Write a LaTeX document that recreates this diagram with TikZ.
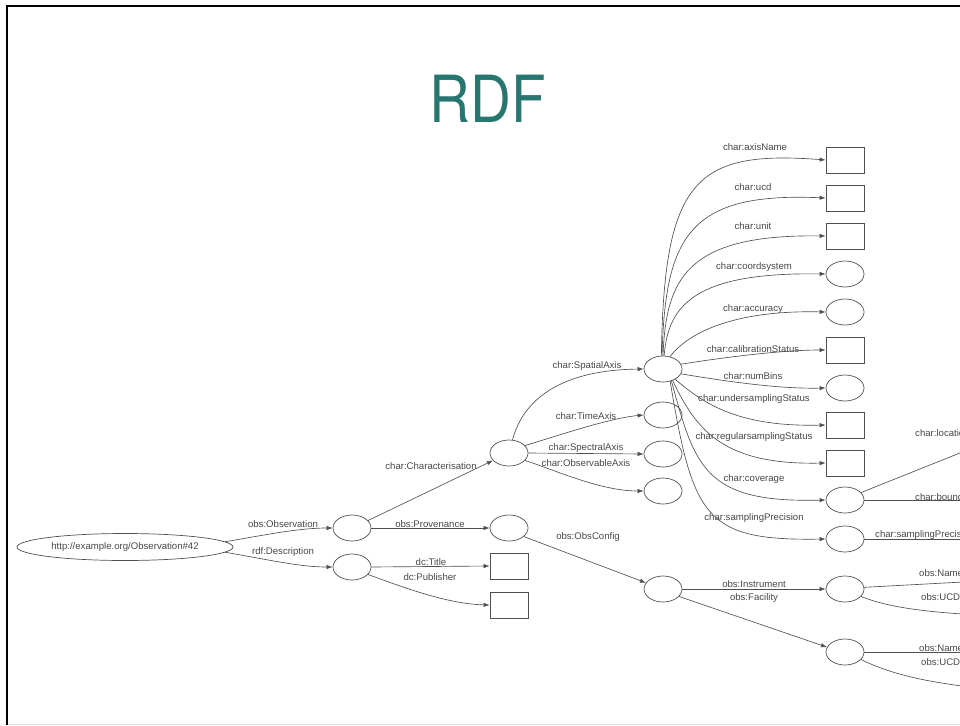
\documentclass[tikz,border=0pt]{standalone}
\usepackage{fontspec}
\usepackage{graphicx}
\setmainfont{Liberation Sans}
\newfontfamily\titlefont{TeX Gyre Heros}
\usetikzlibrary{arrows.meta,shapes.geometric}
\definecolor{titleteal}{RGB}{40,118,112}
\definecolor{edgegray}{RGB}{80,80,80}
\begin{document}
\begin{tikzpicture}[x=1pt,y=-1pt,
  every node/.style={inner sep=0pt},
  res/.style={draw=edgegray,line width=0.7pt,ellipse,minimum width=38pt,minimum height=26pt},
  lit/.style={draw=edgegray,line width=0.7pt,rectangle,minimum width=38pt,minimum height=26pt},
  lbl/.style={font=\fontsize{9.6}{10}\selectfont,text=black!72},
  rel/.style={draw=edgegray,line width=0.65pt,-{Latex[length=6pt,width=4.4pt]}},
  cut/.style={draw=edgegray,line width=0.65pt},
]
\useasboundingbox (0,0) rectangle (960,725);

% slide frame
\draw[line width=2.5pt] (7,725) -- (7,6) -- (960,6);
\draw[black!12,line width=1pt] (8,724) -- (960,724);

% title
\node[font=\titlefont\fontsize{65}{65}\selectfont,text=titleteal,anchor=base] (title) at (488,122) {\scalebox{0.87}[1]{RDF}};

\begin{scope}
\clip (0,0) rectangle (960,725);

% ---- nodes ----
\node[res,lbl,minimum width=216pt,minimum height=27pt] (obs42) at (125,547) {http://example.org/Observation\#42};
\node[res] (obsnode)  at (352,528) {};
\node[res] (descnode) at (352,567) {};
\node[res] (charnode) at (509,453) {};
\node[res] (provnode) at (509,528) {};
\node[lit] (titlebox) at (509,566) {};
\node[lit] (pubbox)   at (509,605) {};
\node[res] (sa)       at (663,369) {};
\node[res] (timeax)   at (663,415) {};
\node[res] (specax)   at (663,454) {};
\node[res] (obsax)    at (663,491) {};
\node[res] (config)   at (663,589) {};

\node[lit] (axisname)  at (845,160) {};
\node[lit] (ucd)       at (845,198) {};
\node[lit] (unit)      at (845,236) {};
\node[res] (coordsys)  at (845,274) {};
\node[res] (accuracy)  at (845,312) {};
\node[lit] (calib)     at (845,350) {};
\node[res] (numbins)   at (845,388) {};
\node[lit] (under)     at (845,425) {};
\node[lit] (regular)   at (845,463) {};
\node[res] (coverage)  at (845,500) {};
\node[res] (samprec)   at (845,539) {};
\node[res] (instrument) at (845,589) {};
\node[res] (facility)  at (845,652) {};

% free ends running past the right edge
\coordinate (locEnd)     at (1000,437);
\coordinate (bndEnd)     at (1000,500);
\coordinate (spEnd)      at (1000,539);
\coordinate (instNameEnd) at (1000,580);
\coordinate (instUcdEnd) at (1000,616);
\coordinate (facNameEnd) at (1000,652);
\coordinate (facUcdEnd)  at (1000,690);

% ---- edges ----
\draw[rel] (obs42.3) .. controls (270,534) and (300,528) .. (obsnode.west);
\draw[rel] (obs42.-3) .. controls (270,560) and (300,567) .. (descnode.west);

\draw[rel] (obsnode.25) -- (charnode.205);
\draw[rel] (obsnode.east) -- (provnode.west);
\draw[rel] (descnode.east) -- (titlebox.west);
\draw[rel] (descnode.-25) .. controls (410,590) and (450,604) .. (pubbox.west);
\draw[rel] (provnode.-30) -- (config.160);

\draw[rel] (charnode.75) .. controls (523,400) and (560,370) .. (sa.west);
\draw[rel] (charnode.25) .. controls (560,435) and (610,418) .. (timeax.west);
\draw[rel] (charnode.east) -- (specax.west);
\draw[rel] (charnode.-25) .. controls (555,470) and (600,491) .. (obsax.west);

\draw[rel] (sa.97) .. controls (664,180) and (695,150) .. (axisname.west);
\draw[rel] (sa.94) .. controls (665,235) and (690,192) .. (ucd.west);
\draw[rel] (sa.90) .. controls (666,280) and (685,234) .. (unit.west);
\draw[rel] (sa.85) .. controls (668,305) and (695,272) .. (coordsys.west);
\draw[rel] (sa.60) .. controls (690,330) and (740,310) .. (accuracy.west);
\draw[rel] (sa.15) .. controls (720,358) and (780,350) .. (calib.west);
\draw[rel] (sa.-15) .. controls (730,382) and (780,389) .. (numbins.west);
\draw[rel] (sa.-40) .. controls (705,405) and (740,427) .. (under.west);
\draw[rel] (sa.-50) .. controls (697,432) and (725,465) .. (regular.west);
\draw[rel] (sa.-55) .. controls (695,468) and (705,503) .. (coverage.west);
\draw[rel] (sa.-60) .. controls (693,518) and (705,541) .. (samprec.west);

\draw[rel] (config.east) -- (instrument.west);
\draw[rel] (config.-25) -- (facility.165);

\draw[cut] (coverage.25) -- (locEnd);
\draw[cut] (coverage.east) -- (bndEnd);
\draw[cut] (samprec.east) -- (spEnd);
\draw[cut] (instrument.5) -- (instNameEnd);
\draw[cut] (instrument.-25) .. controls (890,608) and (930,613) .. (instUcdEnd);
\draw[cut] (facility.east) -- (facNameEnd);
\draw[cut] (facility.-25) .. controls (890,674) and (930,684) .. (facUcdEnd);

% ---- edge labels ----
\node[lbl] (lObs)   at (283,524) {obs:Observation};
\node[lbl] (lDesc)  at (283,552) {rdf:Description};
\node[lbl] (lChar)  at (431,466) {char:Characterisation};
\node[lbl] (lProv)  at (430,524) {obs:Provenance};
\node[lbl] (lTitle) at (431,562) {dc:Title};
\node[lbl] (lPub)   at (430,577) {dc:Publisher};
\node[lbl] (lConf)  at (588,537) {obs:ObsConfig};

\node[lbl] (lSpat)  at (587,366) {char:SpatialAxis};
\node[lbl] (lTime)  at (586,416) {char:TimeAxis};
\node[lbl] (lSpec)  at (586,448) {char:SpectralAxis};
\node[lbl] (lObsAx) at (586,463) {char:ObservableAxis};

\node[lbl] (lAxis)  at (755,147) {char:axisName};
\node[lbl] (lUcd)   at (753,187) {char:ucd};
\node[lbl] (lUnit)  at (753,226) {char:unit};
\node[lbl] (lCoord) at (754,267) {char:coordsystem};
\node[lbl] (lAcc)   at (753,309) {char:accuracy};
\node[lbl] (lCal)   at (753,349) {char:calibrationStatus};
\node[lbl] (lBins)  at (753,376) {char:numBins};
\node[lbl] (lUnder) at (754,399) {char:undersamplingStatus};
\node[lbl] (lReg)   at (754,437) {char:regularsamplingStatus};
\node[lbl] (lCov)   at (754,479) {char:coverage};
\node[lbl] (lSP)    at (754,518) {char:samplingPrecision};

\node[lbl] (lInst)  at (754,584) {obs:Instrument};
\node[lbl] (lFac)   at (754,598) {obs:Facility};

% labels of edges that run on past the right edge
\node[lbl,anchor=west] (lLoc)   at (915,433) {char:location};
\node[lbl,anchor=west] (lBnd)   at (915,497) {char:bounds};
\node[lbl,anchor=west] (lSP2)   at (875,535) {char:samplingPrecision};
\node[lbl,anchor=west] (lName1) at (919,573) {obs:Name};
\node[lbl,anchor=west] (lUcd1)  at (921,597) {obs:UCD};
\node[lbl,anchor=west] (lName2) at (919,648) {obs:Name};
\node[lbl,anchor=west] (lUcd2)  at (921,662) {obs:UCD};
\end{scope}
\end{tikzpicture}
\end{document}
